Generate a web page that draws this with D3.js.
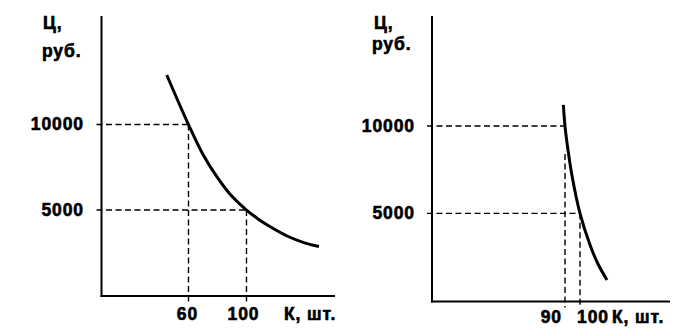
<!DOCTYPE html>
<html><head><meta charset="utf-8">
<script src="https://cdn.jsdelivr.net/npm/d3@7"></script>
<style>
html,body{margin:0;padding:0;background:#fff;}
svg{display:block;}
text{font-family:"Liberation Sans",Arial,sans-serif;font-weight:bold;font-size:17.5px;fill:#000;stroke:#000;stroke-width:0.6px;letter-spacing:0.9px;}
</style></head>
<body>
<script>
// Left panel data
const leftK = [45, 60, 70, 80, 90, 100, 108, 117, 128, 140, 150];
const leftPrice = [12900, 10000, 8250, 6900, 5800, 5000, 4480, 3990, 3480, 3080, 2870];
const leftXTicks = [60, 100];
const leftGuides = [{k: 60, p: 10000}, {k: 100, p: 5000}];
// Right panel data
const rightK = [88.9, 90, 92, 94.7, 100, 106.7, 112, 118];
const rightPrice = [11210, 10000, 8630, 7140, 5000, 3190, 2100, 1190];
const rightXTicks = [90, 100];
const rightHGuides = [{k: 90, p: 10000}, {k: 100, p: 5000}];
const rightVGuides = [{k: 90, p: 8400}, {k: 100, p: 5000}];
// Shared
const yTicks = [10000, 5000];
const yLabel = ["Ц,", "руб."];
const xLabel = "К, шт.";

const svg = d3.select("body").append("svg").attr("width", 679).attr("height", 336);

function panel(o) {
  const g = svg.append("g");
  const x = o.x, y = o.y;
  // axes
  g.append("line").attr("x1", o.ax).attr("x2", o.ax).attr("y1", o.top).attr("y2", o.ay + 1)
    .attr("stroke", "#000").attr("stroke-width", 2);
  g.append("line").attr("x1", o.ax - 1).attr("x2", o.right).attr("y1", o.ay).attr("y2", o.ay)
    .attr("stroke", "#000").attr("stroke-width", 2);
  // guides
  const dash = "6,3.5";
  g.selectAll(".hg").data(o.hGuides).join("line")
    .attr("x1", o.ax - 5).attr("x2", d => x(d.k))
    .attr("y1", d => y(d.p)).attr("y2", d => y(d.p))
    .attr("stroke", "#000").attr("stroke-width", 1.4).attr("stroke-dasharray", dash);
  g.selectAll(".vg").data(o.vGuides).join("line")
    .attr("x1", d => x(d.k)).attr("x2", d => x(d.k))
    .attr("y1", d => y(d.p)).attr("y2", o.ay + 6)
    .attr("stroke", "#000").attr("stroke-width", 1.4).attr("stroke-dasharray", dash);
  // curve
  const pts = o.K.map((k, i) => [k, o.P[i]]);
  g.append("path").datum(pts)
    .attr("d", d3.line().x(d => x(d[0])).y(d => y(d[1])).curve(d3.curveCatmullRom.alpha(0.5)))
    .attr("fill", "none").attr("stroke", "#000").attr("stroke-width", 3);
  // y tick labels
  g.selectAll(".yt").data(yTicks).join("text")
    .attr("x", o.yLabX).attr("y", d => y(d) + 5.5).attr("text-anchor", "end")
    .text(d => d);
  // x tick labels
  g.selectAll(".xt").data(o.xTicks).join("text")
    .attr("x", (d, i) => x(d) + o.xTickDx[i]).attr("y", o.xLabY)
    .attr("text-anchor", (d, i) => o.xTickAnchor[i])
    .text(d => d);
  g.append("text").attr("x", o.kLabX).attr("y", o.xLabY).text(xLabel);
  g.append("text").attr("x", o.cX).attr("y", 29).text(yLabel[0]);
  g.append("text").attr("x", o.rX).attr("y", o.rY).text(yLabel[1]);
}

const xL = d3.scaleLinear().domain([0, 161.4]).range([101.5, 335.5]);
const yL = d3.scaleLinear().domain([0, 16350]).range([295.5, 16]);
panel({
  x: xL, y: yL, ax: 101.5, ay: 296, top: 16, right: 335,
  K: leftK, P: leftPrice, hGuides: leftGuides, vGuides: leftGuides,
  xTicks: leftXTicks, xTickDx: [-1, -3], xTickAnchor: ["middle", "middle"],
  yLabX: 84, xLabY: 320, kLabX: 284, cX: 43, rX: 42, rY: 57
});

const xR = d3.scaleLinear().domain([90, 100]).range([565, 580]);
const yR = d3.scaleLinear().domain([0, 16300]).range([300.7, 16]);
panel({
  x: xR, y: yR, ax: 432, ay: 301.5, top: 16, right: 670,
  K: rightK, P: rightPrice, hGuides: rightHGuides, vGuides: rightVGuides,
  xTicks: rightXTicks, xTickDx: [-3, -3], xTickAnchor: ["end", "start"],
  yLabX: 415, xLabY: 323, kLabX: 612, cX: 374, rX: 372, rY: 50
});
</script>
</body></html>
